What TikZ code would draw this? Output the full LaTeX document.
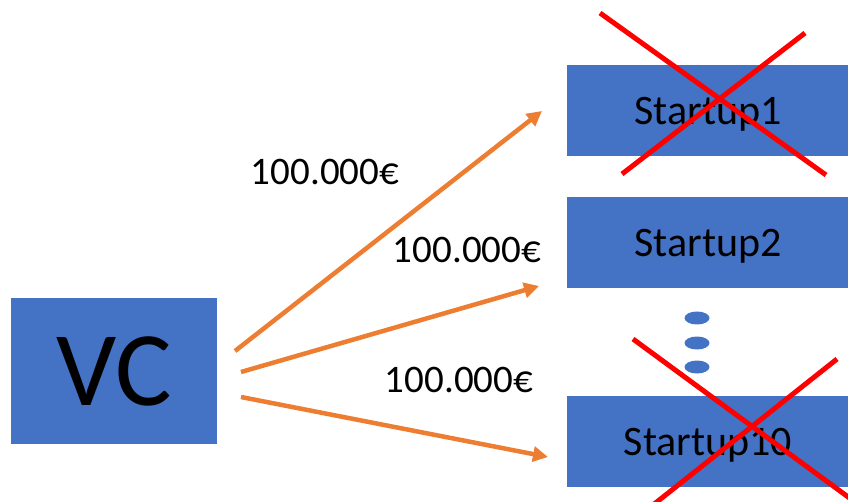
\documentclass[tikz,border=0pt]{standalone}
\usepackage{fontspec}
\setmainfont{Carlito}
\usetikzlibrary{arrows.meta}
\definecolor{boxblue}{HTML}{4472C4}
\definecolor{arrorange}{HTML}{ED7D31}
\begin{document}
\begin{tikzpicture}[x=1pt, y=-1pt,
        startup/.style={rectangle, fill=boxblue, inner sep=0pt, minimum width=282pt, minimum height=91pt, text depth=0pt, font=\fontsize{42}{46}\selectfont},
        money/.style={anchor=base, inner sep=0pt, font=\fontsize{39}{43}\selectfont},
        pay/.style={arrorange, line width=4.5pt, -{Triangle[length=15pt, width=15pt]}},
        cross/.style={red, line width=5pt}]
        \useasboundingbox (0,0) rectangle (848,502);
        \clip (0,0) rectangle (848,502);

        \node[rectangle, fill=boxblue, inner sep=0pt, minimum width=206pt, minimum height=146pt, text depth=0pt, font=\fontsize{106}{110}\selectfont] (vc) at (114,371) {VC};
        \node[startup] (s1) at (708,110.5) {Startup1};
        \node[startup] (s2) at (708,243) {Startup2};
        \node[startup] (s10) at (708,441.5) {Startup10};

        % dots between the boxes
        \foreach \y in {318,343,367}
            \fill[boxblue] (697,\y) ellipse (12.5 and 6.5);

        \coordinate (p1) at (235,351);
        \coordinate (q1) at (542,111);
        \coordinate (p2) at (241,372);
        \coordinate (q2) at (539,286);
        \coordinate (p3) at (241,397);
        \coordinate (q3) at (548,457);
        \draw[pay] (p1) -- (q1);
        \draw[pay] (p2) -- (q2);
        \draw[pay] (p3) -- (q3);

        \node[money] (m1) at (325,185) {100.000€};
        \node[money] (m2) at (467,263) {100.000€};
        \node[money] (m3) at (459,392) {100.000€};

        % crossed out startups
        \draw[cross] (600,13) -- (826,175);
        \draw[cross] (805,33) -- (622,174);
        \draw[cross] (633,339) -- (855,502);
        \draw[cross] (837,359) -- (653,505);
    \end{tikzpicture}
\end{document}
